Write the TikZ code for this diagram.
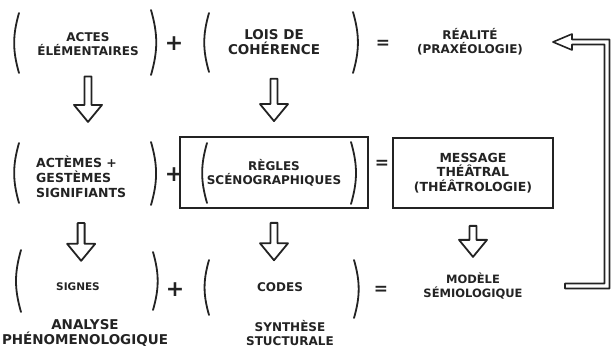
\documentclass[tikz,border=0pt]{standalone}
\usepackage{fontspec}
\setmainfont{DejaVu Sans}
\usetikzlibrary{calc}
\definecolor{inkDark}{RGB}{35,35,35}
\tikzset{
  lbl/.style={font=\fontsize{12}{14}\selectfont\bfseries, align=center, inner sep=0pt, text=inkDark},
  lblsmall/.style={lbl, font=\fontsize{10.5}{13}\selectfont\bfseries},
  lblbig/.style={lbl, font=\fontsize{13.5}{15}\selectfont\bfseries},
  sign/.style={font=\fontsize{22}{22}\selectfont\bfseries, inner sep=0pt, text=inkDark},
  eqsign/.style={font=\fontsize{17}{17}\selectfont\bfseries, inner sep=0pt, text=inkDark},
  framed/.style={lbl, draw=inkDark, line width=1.8pt},
  paren/.style={draw=inkDark, line width=1.8pt, line cap=round},
  downhollow/.style 2 args={draw=inkDark, line width=1.8pt, line join=round,
    to path={let \p1=(\tikztostart), \p2=(\tikztotarget) in
      (\x1-3.5pt,\y1-#1) -- (\x1-3.5pt,\y2+#2+17pt) -- (\x1-14pt,\y2+#2+17pt) -- (\x1,\y2+#2)
      -- (\x1+14pt,\y2+#2+17pt) -- (\x1+3.5pt,\y2+#2+17pt) -- (\x1+3.5pt,\y1-#1) -- cycle}},
  backhollow/.style={draw=inkDark, line width=1.6pt, line join=round,
    to path={let \p1=(\tikztostart), \p2=(\tikztotarget) in
      (\x1+92pt,\y1+2.5pt) -- (\x1+131.5pt,\y1+2.5pt) -- (\x1+131.5pt,\y2-2.5pt)
      -- (\x2+102pt,\y2-2.5pt) -- (\x2+102pt,\y2-8pt) -- (\x2+83pt,\y2) -- (\x2+102pt,\y2+8pt)
      -- (\x2+102pt,\y2+2.5pt) -- (\x1+136.5pt,\y2+2.5pt) -- (\x1+136.5pt,\y1-2.5pt)
      -- (\x1+92pt,\y1-2.5pt) -- cycle}}
}

\begin{document}
\begin{tikzpicture}[x=1pt,y=-1pt]
    \useasboundingbox (0,0) rectangle (613,352);
    % first row
    \node[lbl, font=\fontsize{12}{13.5}\selectfont\bfseries] (act) at (88,44) {ACTES\\ÉLÉMENTAIRES};
    \node[sign] (plusA) at (174,44) {+};
    \node[lblbig] (lois) at (274,42) {LOIS DE\\COHÉRENCE};
    \node[eqsign] (eqA) at (383,44) {=};
    \node[lbl] (realite) at (470,42) {RÉALITÉ\\(PRAXÉOLOGIE)};
    \draw[paren] (19,13) to[bend right=16] (19,73);
    \draw[paren] (151,10) to[bend left=16] (151,75);
    \draw[paren] (209,13) to[bend right=16] (209,72);
    \draw[paren] (353,12) to[bend left=16] (353,73);
    % second row
    \node[lbl, align=left, anchor=west, font=\fontsize{12.5}{15}\selectfont\bfseries] (actem) at (36,177) {ACTÈMES +\\GESTÈMES\\SIGNIFIANTS};
    \node[sign] (plusB) at (174,175) {+};
    \node[framed, minimum width=188, minimum height=71] (regles) at (274,172.5) {RÈGLES\\SCÉNOGRAPHIQUES};
    \node[eqsign] (eqB) at (382,164) {=};
    \node[framed, minimum width=160, minimum height=70, font=\fontsize{12.5}{14.5}\selectfont\bfseries] (message) at (473,173) {MESSAGE\\THÉÂTRAL\\(THÉÂTROLOGIE)};
    \draw[paren] (19,143) to[bend right=16] (19,203);
    \draw[paren] (151,142) to[bend left=16] (151,205);
    \draw[paren] (207,143) to[bend right=16] (207,203);
    \draw[paren] (351,142) to[bend left=16] (351,204);
    % third row
    \node[lblsmall] (signes) at (78,287) {SIGNES};
    \node[sign] (plusC) at (175,290) {+};
    \node[lbl] (codes) at (280,287) {CODES};
    \node[eqsign] (eqC) at (381,290) {=};
    \node[lbl, font=\fontsize{11.5}{13.5}\selectfont\bfseries] (modele) at (473,286) {MODÈLE\\SÉMIOLOGIQUE};
    \draw[paren] (21,250) to[bend right=16] (21,312);
    \draw[paren] (153,252) to[bend left=16] (153,310);
    \draw[paren] (209,260) to[bend right=16] (209,315);
    \draw[paren] (354,260) to[bend left=16] (354,318);
    % bottom labels
    \node[lblbig] (analyse) at (85,333) {ANALYSE\\PHÉNOMENOLOGIQUE};
    \node[lbl] (synthese) at (290,333) {SYNTHÈSE\\STUCTURALE};
    % arrows
    \draw[downhollow={21pt}{34pt}] (act.south) to (actem.north);
    \draw[downhollow={24pt}{15pt}] (lois.south) to (regles.north);
    \draw[downhollow={25pt}{22pt}] (actem.south) to (signes.north);
    \draw[downhollow={14pt}{22pt}] (regles.south) to (codes.north);
    \draw[downhollow={17pt}{16pt}] (message.south) to (modele.north);
    \draw[backhollow] (modele) to (realite);
\end{tikzpicture}
\end{document}
